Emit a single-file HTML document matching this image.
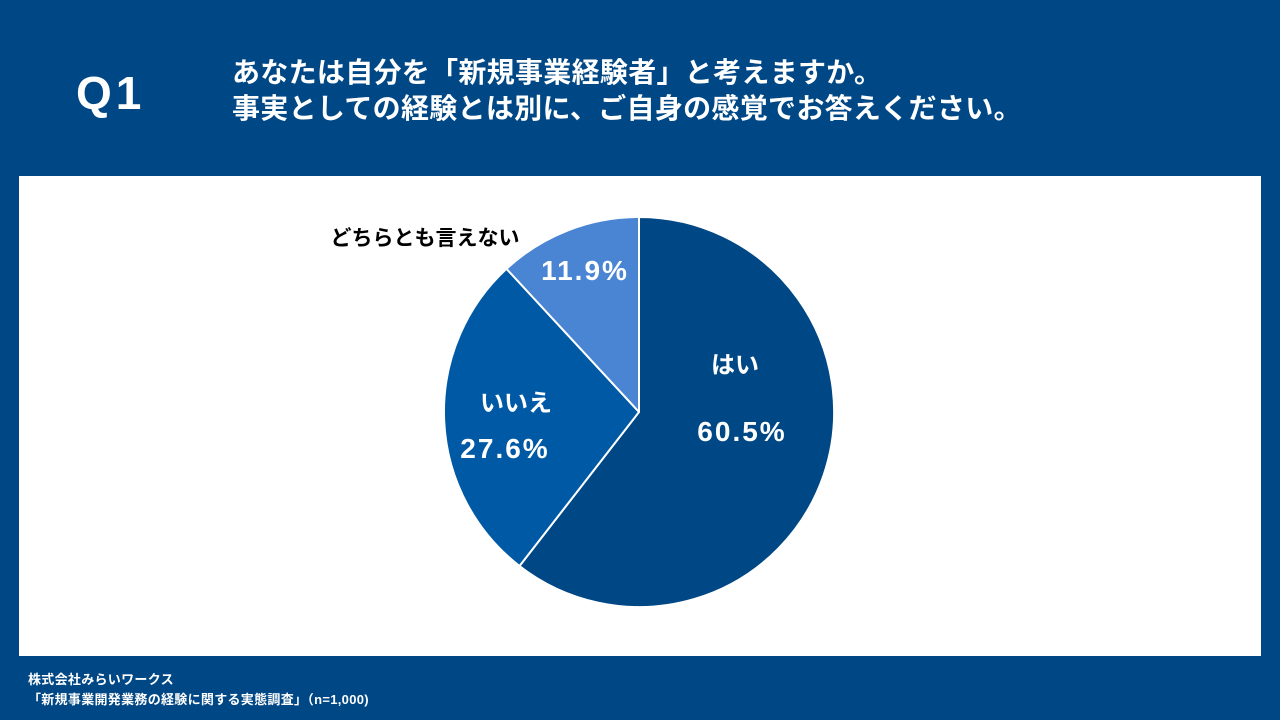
<!DOCTYPE html>
<html><head><meta charset="utf-8"><style>
html,body{margin:0;padding:0}
body{width:1280px;height:720px;background:#004785;position:relative;overflow:hidden;font-family:"Liberation Sans","Noto Sans CJK JP",sans-serif;font-weight:bold;color:#fff}
.q{position:absolute;left:76px;top:66px;font-size:46px;letter-spacing:4px}
.t{position:absolute;left:232px;top:55px;font-size:28px;line-height:36px;letter-spacing:0.3px}
.panel{position:absolute;left:19px;top:176px;width:1242px;height:480px;background:#fff}
.f{position:absolute;left:28px;font-size:13px;letter-spacing:0.3px}
</style></head><body>
<div class="q">Q1</div>
<div class="t">あなたは自分を「新規事業経験者」と考えますか。<br>事実としての経験とは別に、ご自身の感覚でお答えください。</div>
<div class="panel"></div>
<svg width="1280" height="720" style="position:absolute;left:0;top:0">
<g stroke="#fff" stroke-width="2" stroke-linejoin="round">
<path d="M639,412 L639,217 A195,195 0 1 1 519.5,566 Z" fill="#004785"/>
<path d="M639,412 L519.5,566 A195,195 0 0 1 506.5,268.8 Z" fill="#0059A4"/>
<path d="M639,412 L506.5,268.8 A195,195 0 0 1 639,217 Z" fill="#4A85D4"/>
</g>
<g font-family="Liberation Sans,Noto Sans CJK JP,sans-serif" font-weight="bold" fill="#fff" text-anchor="middle">
<text x="735" y="373" font-size="24">はい</text>
<text x="742" y="441" font-size="28" letter-spacing="2">60.5%</text>
<text x="516" y="411" font-size="24">いいえ</text>
<text x="505" y="458" font-size="28" letter-spacing="2">27.6%</text>
<text x="585" y="280" font-size="28" letter-spacing="2">11.9%</text>
<text x="425" y="245" font-size="21" fill="#000">どちらとも言えない</text>
</g>
</svg>
<div class="f" style="top:669px">株式会社みらいワークス</div>
<div class="f" style="top:689px">「新規事業開発業務の経験に関する実態調査」（n=1,000)</div>
</body></html>
